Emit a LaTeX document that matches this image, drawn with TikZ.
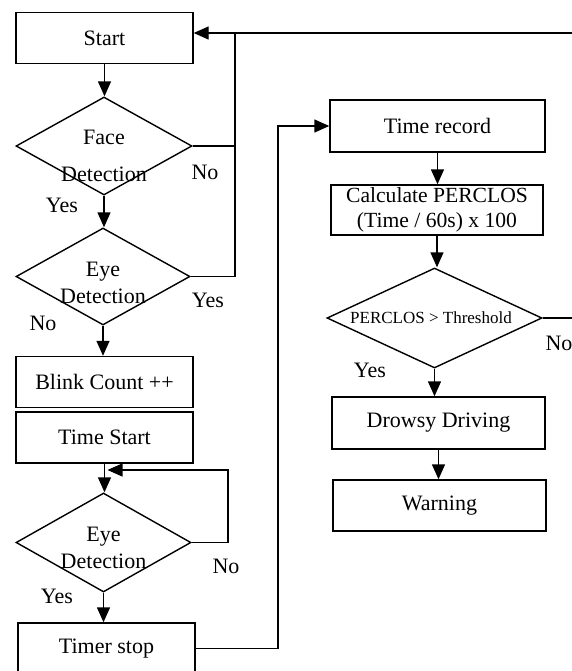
\documentclass[tikz,border=0pt]{standalone}
\usepackage{fontspec}
\setmainfont{Liberation Serif}
\usetikzlibrary{shapes.geometric, arrows.meta}
\tikzset{
  procbox/.style={draw, line width=0.7pt, minimum width=88.5pt, minimum height=25.5pt, inner sep=0pt, font=\fontsize{11}{13.5}\selectfont},
  decision/.style={draw, diamond, line width=0.7pt, inner sep=0pt, minimum width=87.5pt, minimum height=49pt},
  dtext/.style={inner sep=0pt, align=center, font=\fontsize{11}{13.5}\selectfont},
  branch/.style={inner sep=0pt, font=\fontsize{11}{13.5}\selectfont},
  flow/.style={line width=0.7pt, -{Triangle[length=7.5pt, width=6.5pt]}},
  wire/.style={line width=0.7pt}
}

\begin{document}
\begin{tikzpicture}[x=0.5pt, y=-0.5pt]
\useasboundingbox (0,0) rectangle (572,671);

% left column
\node[procbox] (start) at (104.5,38) {Start};
\node[decision, minimum width=88pt] (face) at (104,146) {};
\node[dtext] (facet) at (104,155.5) {Face\\[5pt]Detection};
\node[decision, minimum width=87pt, minimum height=48.5pt] (eye1) at (103,276.5) {};
\node[dtext] (eye1t) at (103,282.5) {Eye\\Detection};
\node[procbox] (blink) at (104.5,382) {Blink Count ++};
\node[procbox] (tstart) at (104.5,437.5) {Time Start};
\node[decision, minimum height=49.5pt] (eye2) at (103.5,542.5) {};
\node[dtext] (eye2t) at (103.5,547.5) {Eye\\Detection};
\node[procbox] (tstop) at (106.5,648.5) {Timer stop};

% right column
\node[procbox, minimum width=107.5pt, minimum height=26pt] (trec) at (437.5,126) {Time record};
\node[procbox, minimum width=106pt, minimum height=25pt, align=center, font=\fontsize{10.8}{12.5}\selectfont] (calc) at (437,210) {Calculate PERCLOS\\(Time / 60s) x 100};
\node[decision, minimum width=107.5pt, minimum height=50pt] (perc) at (434.5,318) {};
\node[dtext, font=\fontsize{8.5}{10}\selectfont] (perct) at (431,318) {PERCLOS > Threshold};
\node[procbox, minimum width=106.5pt, minimum height=26pt] (drowsy) at (438.5,423) {Drowsy Driving};
\node[procbox, minimum width=106.5pt] (warn) at (439.5,505.5) {Warning};

% branch labels
\node[branch] (faceno) at (205,172) {No};
\node[branch] (faceyes) at (62,205) {Yes};
\node[branch] (eye1yes) at (208,300) {Yes};
\node[branch] (eye1no) at (43,323) {No};
\node[branch] (eye2no) at (226,566) {No};
\node[branch] (eye2yes) at (57,596) {Yes};
\node[branch] (percyes) at (370,370) {Yes};
\node[branch] (percno) at (559,343) {No};

% bends
\coordinate (ret) at (572,33);
\coordinate (join1) at (235,33);
\coordinate (loop) at (228,470);
\coordinate (bus) at (278,400);
\coordinate (nostub) at (572,318);

% edges
\draw[flow] (start.south) -- (start.south |- face.north);
\draw[flow] (face.south) -- (face.south |- eye1.north);
\draw[flow] (eye1.south) -- (eye1.south |- blink.north);
\draw[flow] (tstart.south) -- (tstart.south |- eye2.north);
\draw[flow] (eye2.south) -- (eye2.south |- tstop.north);
\draw[flow, shorten >=2pt] (eye2.east) -| (loop) -- (loop -| eye2.north);
\draw[wire] (face.east) -| (join1);
\draw[wire] (eye1.east) -| (join1);
\draw[flow] (ret) -- (ret -| start.east);
\draw[flow] (tstop.east) -| (bus) |- (trec.west);
\draw[flow] (trec.south) -- (trec.south |- calc.north);
\draw[flow] (calc.south) -- (calc.south |- perc.north);
\draw[flow] (perc.south) -- (perc.south |- drowsy.north);
\draw[flow] (drowsy.south) -- (drowsy.south |- warn.north);
\draw[wire] (perc.east) -- (nostub);
\end{tikzpicture}
\end{document}
